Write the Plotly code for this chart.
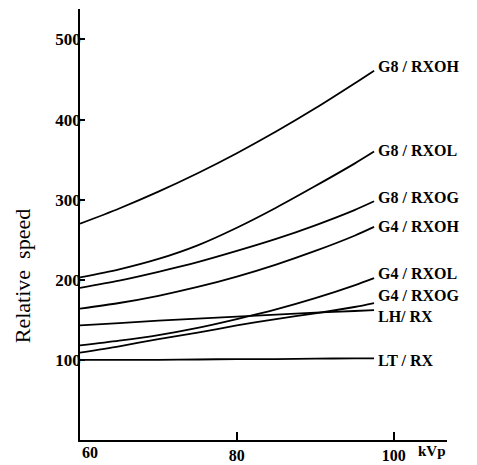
import plotly.graph_objects as go

kvp = [60, 65, 70, 75, 80, 85, 90, 95, 97.5]
g8_rxoh = [270, 289, 310, 333, 358, 385, 414, 445, 461]
g8_rxol = [203, 213, 226, 243, 265, 290, 317, 345, 360]
g8_rxog = [190, 199, 210, 222, 236, 251, 268, 287, 298]
g4_rxoh = [164, 171, 180, 191, 204, 219, 236, 255, 266]
g4_rxol = [118, 124, 131, 140, 151, 163, 177, 193, 202]
g4_rxog = [109, 117, 126, 134, 143, 151, 158, 166, 171]
lh_rx = [143, 146, 149, 151.5, 154, 156.5, 159, 161, 162]
lt_rx = [100, 100, 100, 100.5, 101, 101, 101.5, 102, 102]

series_names = ["G8 / RXOH", "G8 / RXOL", "G8 / RXOG", "G4 / RXOH",
                "G4 / RXOL", "G4 / RXOG", "LH/ RX", "LT / RX"]
series_values = [g8_rxoh, g8_rxol, g8_rxog, g4_rxoh, g4_rxol, g4_rxog, lh_rx, lt_rx]
label_yshift = [4, 1, 4, 0, 5, 8, -6, -2]

y_tickvals = [100, 200, 300, 400, 500]
x_tickvals = [80, 100]
x_ticktext = ["80", "100"]

SERIF = "Liberation Serif, Times New Roman, serif"

fig = go.Figure()
for name, vals, ys in zip(series_names, series_values, label_yshift):
    fig.add_trace(go.Scatter(x=kvp, y=vals, mode="lines", name=name,
                             line=dict(color="black", width=1.8, shape="spline", smoothing=0.8),
                             showlegend=False, hoverinfo="skip"))
    fig.add_annotation(x=kvp[-1], y=vals[-1], text=name, showarrow=False,
                       xanchor="left", yanchor="middle", xshift=2, yshift=ys,
                       font=dict(family=SERIF, size=16, color="black", weight="bold"))

fig.add_annotation(x=60, y=0, text="60", showarrow=False, xanchor="center", yanchor="top",
                   xshift=10, yshift=-2, font=dict(family=SERIF, size=16, color="black", weight="bold"))
fig.add_annotation(x=100, y=0, text="kVp", showarrow=False, xanchor="left", yanchor="top",
                   xshift=22, yshift=-1, font=dict(family=SERIF, size=15, color="black", weight="bold"))
fig.add_annotation(xref="paper", yref="paper", x=-0.158, y=0.38, text="Relative  speed",
                   textangle=-90, showarrow=False, xanchor="center", yanchor="middle",
                   font=dict(family=SERIF, size=22, color="black"))

fig.update_xaxes(range=[60, 106.8], showline=True, linecolor="black", linewidth=1.5,
                 tickvals=x_tickvals, ticktext=x_ticktext, ticks="inside", ticklen=8,
                 tickcolor="black", tickwidth=1.5, showgrid=False, zeroline=False,
                 ticklabelstandoff=0,
                 tickfont=dict(family=SERIF, size=16, color="black", weight="bold"))
fig.update_yaxes(range=[0, 538], showline=True, linecolor="black", linewidth=1.5,
                 tickvals=y_tickvals, ticks="inside", ticklen=5, tickcolor="black", tickwidth=1.5,
                 showgrid=False, zeroline=False, ticklabelstandoff=-6,
                 tickfont=dict(family=SERIF, size=17, color="black", weight="bold"))

fig.update_layout(width=469, height=457, margin=dict(l=72, r=30, t=1, b=23),
                  paper_bgcolor="white", plot_bgcolor="white")

fig.write_html("out.html")
